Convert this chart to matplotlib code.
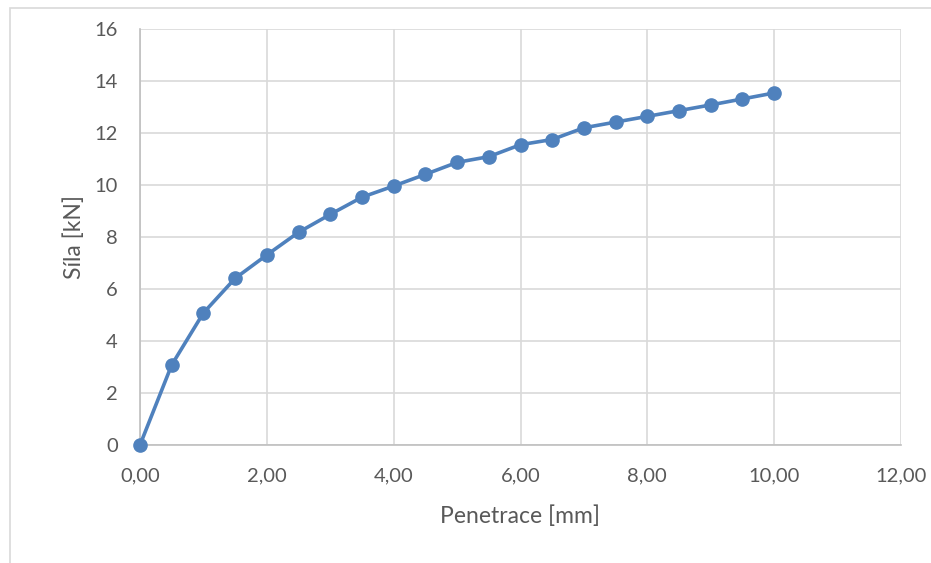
import matplotlib
matplotlib.use("Agg")
import matplotlib.pyplot as plt
from matplotlib.patches import Rectangle
from matplotlib.ticker import FuncFormatter, MultipleLocator

# ── Data ──
penetrace = [0.0, 0.5, 1.0, 1.5, 2.0, 2.5, 3.0, 3.5, 4.0, 4.5, 5.0,
             5.5, 6.0, 6.5, 7.0, 7.5, 8.0, 8.5, 9.0, 9.5, 10.0]
sila = [0.0, 3.08, 5.08, 6.41, 7.31, 8.18, 8.87, 9.53, 9.96, 10.41, 10.87,
        11.09, 11.55, 11.75, 12.20, 12.42, 12.64, 12.86, 13.08, 13.31, 13.54]

plt.rcParams["font.family"] = ["Lato", "DejaVu Sans"]
TXT = "#595959"
W, H = 931, 563

fig = plt.figure(figsize=(W / 100, H / 100), dpi=100)
ax = fig.add_axes([140 / W, 1 - 445 / H, 761 / W, 416 / H])

# chart area border
fig.patches.append(Rectangle((9.5 / W, -0.01), 1.0, 1 - 8 / H + 0.01,
                             transform=fig.transFigure, fill=False,
                             edgecolor="#d9d9d9", linewidth=1.2))

ax.plot(penetrace, sila, color="#4f81bd", linewidth=2.6, marker="o",
        markersize=9.5, zorder=3, clip_on=False)

ax.set_xlim(0, 12)
ax.set_ylim(0, 16)
ax.xaxis.set_major_locator(MultipleLocator(2))
ax.yaxis.set_major_locator(MultipleLocator(2))
ax.xaxis.set_major_formatter(FuncFormatter(lambda v, p: f"{v:.2f}".replace(".", ",")))
ax.yaxis.set_major_formatter(FuncFormatter(lambda v, p: f"{v:.0f}"))
ax.grid(True, color="#d9d9d9", linewidth=1.2)
ax.set_axisbelow(True)

for s in ["top", "right"]:
    ax.spines[s].set_visible(False)
for s in ["left", "bottom"]:
    ax.spines[s].set_color("#bfbfbf")
    ax.spines[s].set_linewidth(1.2)

ax.tick_params(length=0, labelsize=14.5, colors=TXT)
ax.tick_params(axis="x", pad=16)
ax.tick_params(axis="y", pad=16)

ax.set_xlabel("Penetrace [mm]", fontsize=16.5, color=TXT, labelpad=15)
ax.set_ylabel("Síla [kN]", fontsize=16.5, color=TXT, labelpad=7)

fig.savefig("out.png", dpi=100)
